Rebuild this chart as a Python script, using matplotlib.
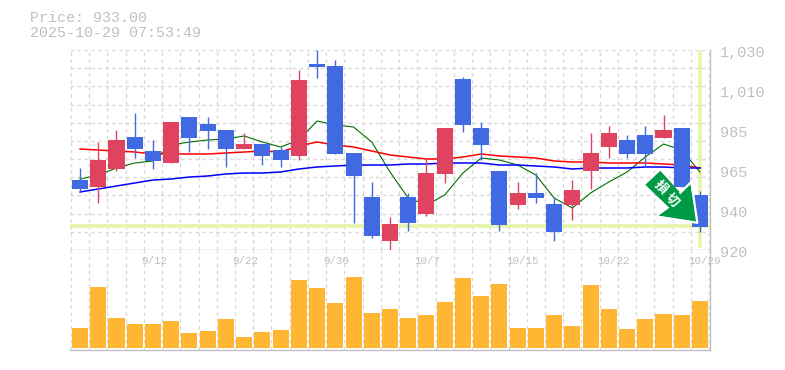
import matplotlib
matplotlib.use("Agg")
import matplotlib.pyplot as plt
from matplotlib.lines import Line2D
from matplotlib.patches import Polygon
from matplotlib.transforms import Affine2D

GRAY = "#c0c0c0"
GRID = "#d9d9d9"
UP = "#e0435f"
DOWN = "#4169e1"
BAND = "#e6f5a9"
MONO = "Liberation Mono"

opens = [958.5, 954.65, 964.55, 982.15, 974.45, 967.85, 993.15, 989.3, 986.0, 975.55,
         978.3, 975.0, 971.7, 1022.3, 1021.2, 973.35, 949.15, 924.95, 949.15, 939.8,
         961.8, 1014.05, 987.1, 963.45, 944.75, 951.35, 945.3, 944.75, 963.45, 976.65,
         980.5, 983.25, 981.6, 987.1, 950.25]
closes = [953.55, 969.5, 980.5, 975.55, 968.95, 990.4, 981.6, 985.45, 975.55, 978.3,
          971.7, 969.5, 1013.5, 1020.65, 972.8, 960.7, 927.7, 934.3, 934.85, 962.35,
          987.1, 988.75, 977.75, 933.75, 951.35, 948.6, 929.9, 953.0, 973.35, 984.35,
          972.8, 972.8, 986.0, 954.65, 932.65]
highs = [965.1, 979.4, 986.0, 995.35, 980.5, 990.4, 993.15, 993.15, 986.0, 984.35,
         978.3, 976.65, 1019.0, 1030.0, 1024.5, 973.35, 957.4, 938.15, 951.35, 970.05,
         987.1, 1015.15, 990.4, 963.45, 957.4, 962.35, 949.15, 958.5, 984.35, 988.2,
         983.25, 988.2, 994.25, 987.1, 952.45]
lows = [952.45, 945.85, 963.45, 970.6, 964.55, 967.85, 973.9, 975.55, 965.65, 975.55,
        966.75, 965.65, 969.5, 1014.6, 972.8, 934.85, 926.6, 919.5, 930.45, 938.7,
        956.85, 984.9, 969.5, 930.45, 942.55, 945.85, 924.95, 936.5, 953.55, 970.6,
        970.6, 965.65, 981.6, 954.65, 929.9]

ma_short = [959.05, 961.25, 965.1, 967.85, 968.95, 977.75, 979.4, 980.5, 981.05, 982.7,
            979.4, 976.65, 980.5, 990.95, 988.75, 987.65, 979.4, 962.9, 948.6, 944.75,
            950.25, 962.35, 970.6, 969.5, 966.75, 961.25, 948.6, 943.1, 951.35, 957.4,
            962.9, 971.15, 978.3, 975.0, 962.9]
ma_mid = [975.55, 975.0, 974.45, 973.9, 972.8, 972.8, 972.8, 972.8, 973.35, 973.9,
          974.45, 973.9, 977.2, 979.4, 977.75, 976.65, 974.45, 972.25, 971.15, 970.05,
          970.05, 971.15, 972.8, 971.7, 971.15, 970.6, 968.95, 968.4, 968.4, 967.85,
          967.85, 967.85, 967.3, 966.75, 965.1]
ma_long = [951.9, 953.55, 955.2, 956.85, 958.5, 959.05, 960.15, 960.7, 961.8, 962.35,
           962.35, 962.9, 964.55, 965.65, 966.2, 966.75, 966.75, 966.75, 967.3, 967.3,
           967.85, 967.85, 967.85, 966.75, 966.75, 966.2, 965.65, 964.55, 965.1, 965.1,
           965.1, 965.65, 965.65, 965.1, 965.1]

volumes = [20, 61, 30, 24, 24, 27, 15, 17, 29, 11, 16, 18, 68, 60, 45, 71, 35, 39,
           30, 33, 46, 70, 52, 64, 20, 20, 33, 22, 63, 39, 19, 29, 34, 33, 47]

price_ticks = [920, 942, 964, 986, 1008, 1030]
price_labels = ["920", "940", "965", "985", "1,010", "1,030"]
date_pos = [4, 9, 14, 19, 24, 29, 34]
date_labels = ["9/12", "9/22", "9/30", "10/7", "10/15", "10/22", "10/29"]
last_price = 933.0

n = len(opens)
xs = list(range(n))

fig = plt.figure(figsize=(7.85, 3.70), dpi=100)
ax = fig.add_axes([70 / 785, 120 / 370, 640 / 785, 200 / 370])
vol = fig.add_axes([70 / 785, 20 / 370, 640 / 785, 100 / 370], sharex=ax)
ax.set_xlim(-0.55, 34.55)
ax.set_ylim(920, 1030)
vol.set_ylim(-2, 98)

for a in (ax, vol):
    a.set_xticks([i - 0.5 for i in range(n + 1)])
    a.tick_params(length=0, labelbottom=False, labelleft=False)
    a.grid(axis="x", color=GRID, ls=(0, (2.5, 2.5)), lw=1)
    a.set_axisbelow(True)
    for s in a.spines.values():
        s.set_visible(False)
    for side in ("bottom", "right"):
        a.spines[side].set_visible(True)
        a.spines[side].set_color(GRAY)
        a.spines[side].set_linewidth(1)

ax.set_yticks(range(920, 1031, 10))
ax.grid(axis="y", color=GRID, ls=(0, (2.5, 2.5)), lw=1)

# current price / last bar guides
ax.axhline(last_price, color=BAND, lw=2.6, zorder=1)
ax.plot([xs[-1], xs[-1]], [921, 1030], color=BAND, lw=2.6, zorder=1, solid_capstyle="butt")

ax.plot(xs, ma_short, color="#006e00", lw=0.8, zorder=2)
ax.plot(xs, ma_mid, color="#ff0000", lw=1.1, zorder=2)
ax.plot(xs, ma_long, color="#0000ff", lw=1.1, zorder=2)

for i in xs:
    c = UP if closes[i] > opens[i] else DOWN
    ax.plot([i, i], [lows[i], highs[i]], color=c, lw=1, zorder=3, solid_capstyle="butt", clip_on=False)
    ax.bar(i, abs(closes[i] - opens[i]), bottom=min(opens[i], closes[i]), width=0.88, color=c, zorder=4)

vol.bar(xs, volumes, width=0.88, color="#ffb733", zorder=3)

for t, lab in zip(price_ticks, price_labels):
    ax.annotate(lab, xy=(1, t), xycoords=ax.get_yaxis_transform(), xytext=(7.2, -2.2),
                textcoords="offset points", ha="left", va="center",
                family=MONO, fontsize=11, color=GRAY, annotation_clip=False)
for p, lab in zip(date_pos, date_labels):
    vol.annotate(lab, xy=(p, 1), xycoords=vol.get_xaxis_transform(), xytext=(-8.5, -8),
                 textcoords="offset points", ha="left", va="center",
                 family=MONO, fontsize=7.8, color=GRAY, annotation_clip=False, zorder=5)

fig.text(30 / 785, 1 - 18 / 370, "Price: 933.00", family=MONO, fontsize=10.8, color=GRAY, va="center")
fig.text(30 / 785, 1 - 33 / 370, "2025-10-29 07:53:49", family=MONO, fontsize=10.8, color=GRAY, va="center")

# signal arrow, shape given in pixels around its tip
fig.canvas.draw()
tip = ax.transData.transform((33.8, 935.5))
arrow_shape = [(-36, 51), (-51, 37), (-27, 14), (-38, 6), (0, 0), (-6, 39), (-16, 29)]
tr = Affine2D().translate(tip[0], tip[1])
ax.add_patch(Polygon(arrow_shape, closed=True, transform=tr, facecolor="#009944",
                     edgecolor="none", zorder=6, clip_on=False))
rim = [(-38, 5), (1, -1), (-5, 40), (-16, 29)]
ax.add_line(Line2D([p[0] for p in rim], [p[1] for p in rim], transform=tr, color="white",
                   lw=1.6, zorder=6, clip_on=False))
for dx, dy, ch in [(-35, 35, "損"), (-24, 22, "切")]:
    ax.text(tip[0] + dx, tip[1] + dy, ch, transform=None, rotation=-45, rotation_mode="anchor",
            ha="center", va="center", color="white", fontsize=9.5, fontweight="bold",
            family="Noto Sans CJK JP", zorder=7, clip_on=False)

fig.savefig("out.png", dpi=100)
